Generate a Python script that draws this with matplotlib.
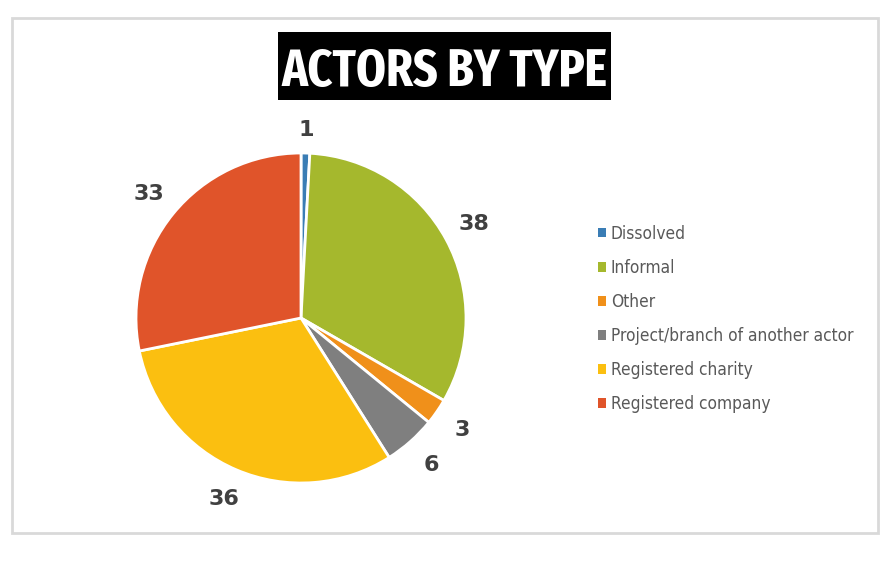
import matplotlib
matplotlib.use('Agg')
import matplotlib.pyplot as plt
from matplotlib.patches import Rectangle
from matplotlib import font_manager as fm

# ── DATA ────────────────────────────────────────────────────────────────────
categories = ["Dissolved", "Informal", "Other", "Project/branch of another actor",
              "Registered charity", "Registered company"]
counts = [1, 38, 3, 6, 36, 33]
colors = ["#3a7db5", "#a5b82d", "#f0901a", "#7f7f7f", "#fbbf10", "#e0542a"]


def _weight(f):
    if isinstance(f.weight, int):
        return f.weight
    return 700 if "bold" in str(f.weight) else 400


def find_title_font():
    """Most condensed bold face available."""
    for key in ("extracondensed", "condensed", "narrow"):
        hits = []
        for f in fm.fontManager.ttflist:
            name = (f.fname + f.name).lower().replace(" ", "").replace("-", "")
            if key not in name or "italic" in name or "oblique" in name:
                continue
            if key == "condensed" and ("semicondensed" in name or "ultracondensed" in name):
                continue
            if _weight(f) == 700:
                hits.append(f.fname)
        if hits:
            return fm.FontProperties(fname=sorted(hits)[0])
    return fm.FontProperties(family="DejaVu Sans", weight="bold")


def find_legend_font():
    """A lightly narrow regular face."""
    hits = []
    for f in fm.fontManager.ttflist:
        name = (f.fname + f.name).lower()
        if not ("condensed" in name or "narrow" in name):
            continue
        if "italic" in f.style or "oblique" in f.style:
            continue
        if _weight(f) < 600:
            hits.append(f.fname)
    if hits:
        return fm.FontProperties(fname=sorted(hits)[0])
    return None


W, H = 890, 567
fig = plt.figure(figsize=(W / 100, H / 100), dpi=100)
fig.patch.set_facecolor("white")
renderer = fig.canvas.get_renderer()

# outer frame
fig.patches.append(Rectangle((12 / W, 1 - 533 / H), 866 / W, 515 / H,
                             transform=fig.transFigure, facecolor="none",
                             edgecolor="#d9d9d9", linewidth=2))

# title block
fig.patches.append(Rectangle((278 / W, 1 - 100 / H), 333 / W, 68 / H,
                             transform=fig.transFigure, facecolor="black",
                             edgecolor="none"))
title = fig.text(444.5 / W, 1 - 86 / H, "ACTORS BY TYPE", color="white",
                 fontproperties=find_title_font(), ha="center", va="baseline")
title.set_fontsize(48)
tw = title.get_window_extent(renderer).width
if tw > 326:
    title.set_fontsize(48 * 326 / tw)

# pie
cx, cy, r = 301, 318, 165
ax = fig.add_axes([(cx - r) / W, (H - cy - r) / H, 2 * r / W, 2 * r / H])
wedges, texts = ax.pie(counts, labels=[str(c) for c in counts], colors=colors,
                       startangle=90, counterclock=False, labeldistance=1.19,
                       wedgeprops=dict(edgecolor="white", linewidth=2),
                       textprops=dict(fontsize=16, fontweight="bold",
                                      color="#404040"))
for t in texts:
    t.set_ha("center")
    t.set_va("center")
x0, y0 = texts[0].get_position()
texts[0].set_position((x0 * 1.14 / 1.19, y0 * 1.14 / 1.19))
ax.set_xlim(-1, 1)
ax.set_ylim(-1, 1)

leg_fp = find_legend_font()
if leg_fp is not None:
    leg_fp.set_size(12.4)
else:
    leg_fp = fm.FontProperties(family=["Liberation Sans", "DejaVu Sans"], size=11.5)
leg = fig.legend(wedges, categories, loc="upper left",
                 bbox_to_anchor=(598 / W, 1 - 225 / H), frameon=False,
                 handlelength=0.45, handleheight=0.45, handletextpad=0.3,
                 labelspacing=0.93, borderpad=0, borderaxespad=0,
                 prop=leg_fp, labelcolor="#595959")
for h in leg.legend_handles:
    h.set_edgecolor("none")

fig.savefig("out.png", dpi=100, facecolor="white")
